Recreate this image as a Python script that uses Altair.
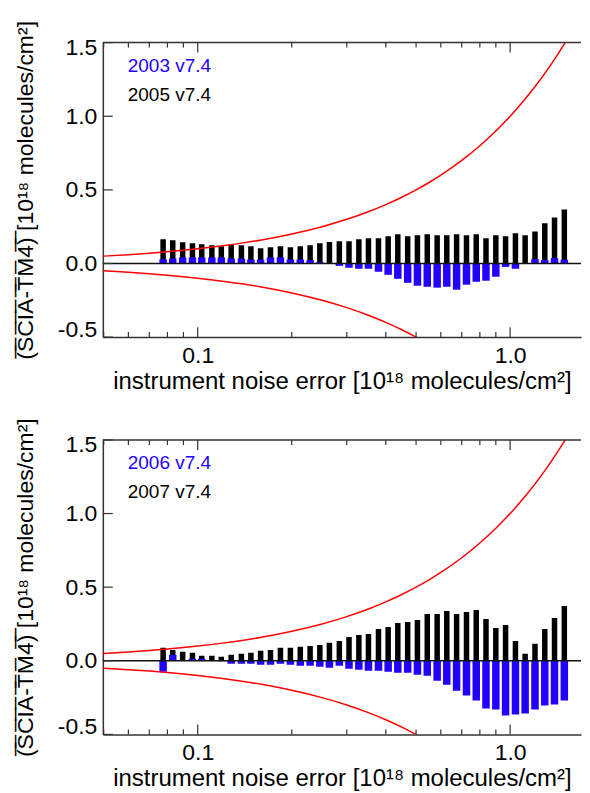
import altair as alt
import pandas as pd

# bar centres (instrument noise error, 1e18 molec/cm2)
noise = [0.0775, 0.0832, 0.0895, 0.0962, 0.103, 0.111, 0.119, 0.128, 0.138, 0.148,
         0.159, 0.171, 0.184, 0.198, 0.213, 0.229, 0.246, 0.264, 0.284, 0.305,
         0.328, 0.352, 0.379, 0.407, 0.437, 0.470, 0.505, 0.543, 0.584, 0.627,
         0.674, 0.725, 0.779, 0.837, 0.900, 0.967, 1.040, 1.117, 1.201, 1.291,
         1.387, 1.491]

y2003 = [0.029, 0.034, 0.041, 0.041, 0.041, 0.041, 0.041, 0.034, 0.034, 0.027,
         0.027, 0.041, 0.041, 0.027, 0.027, 0.023, 0.009, 0.004, -0.016, -0.029,
         -0.036, -0.036, -0.056, -0.077, -0.104, -0.131, -0.151, -0.158, -0.164, -0.158,
         -0.178, -0.144, -0.124, -0.117, -0.090, -0.023, -0.036, 0.003, 0.029, 0.023,
         0.036, 0.025]
y2005 = [0.164, 0.158, 0.144, 0.137, 0.131, 0.124, 0.117, 0.126, 0.124, 0.117,
         0.104, 0.110, 0.117, 0.110, 0.117, 0.124, 0.137, 0.146, 0.151, 0.151,
         0.164, 0.171, 0.171, 0.185, 0.198, 0.185, 0.191, 0.198, 0.191, 0.191,
         0.198, 0.191, 0.198, 0.171, 0.191, 0.185, 0.205, 0.191, 0.218, 0.273,
         0.313, 0.367]
y2006 = [-0.074, 0.041, 0.005, 0.014, 0.014, 0.003, -0.003, -0.020, -0.020, -0.020,
         -0.027, -0.027, -0.020, -0.027, -0.034, -0.034, -0.041, -0.047, -0.034, -0.054,
         -0.061, -0.068, -0.068, -0.074, -0.081, -0.081, -0.095, -0.101, -0.135, -0.162,
         -0.203, -0.236, -0.270, -0.324, -0.331, -0.372, -0.365, -0.358, -0.331, -0.304,
         -0.297, -0.270]
y2007 = [0.088, 0.074, 0.061, 0.054, 0.034, 0.034, 0.027, 0.041, 0.047, 0.054,
         0.068, 0.074, 0.088, 0.088, 0.095, 0.101, 0.108, 0.122, 0.135, 0.162,
         0.176, 0.182, 0.216, 0.230, 0.257, 0.264, 0.277, 0.318, 0.318, 0.338,
         0.318, 0.331, 0.345, 0.284, 0.223, 0.243, 0.135, 0.047, 0.115, 0.216,
         0.291, 0.372]

# sample points of the +/- noise envelope lines
curve_x = [0.04, 0.05, 0.06, 0.07, 0.08, 0.09, 0.1, 0.12, 0.14, 0.16, 0.18, 0.2,
           0.25, 0.3, 0.35, 0.4, 0.45, 0.5, 0.55, 0.6, 0.7, 0.8, 0.9, 1.0, 1.1,
           1.2, 1.3, 1.4, 1.5, 1.6, 1.8, 2.0]

x_major = [0.1, 1.0]
x_minor = [0.05, 0.06, 0.07, 0.08, 0.09, 0.2, 0.3, 0.4, 0.5, 0.6, 0.7, 0.8, 0.9]
y_major = [-0.5, 0.0, 0.5, 1.0, 1.5]

legend_top = ["2003 v7.4", "2005 v7.4"]
legend_bottom = ["2006 v7.4", "2007 v7.4"]

BLUE = "#2200ff"
FONT = "Liberation Sans, DejaVu Sans"
W, H = 479, 295
XDOM = [0.0497, 1.686]
YDOM = [-0.5, 1.5]

ytitle = "".join(c + "\u0305" for c in "(SCIA-TM4)") + " [10\u00b9\u2078 molecules/cm\u00b2]"
xtitle = "instrument noise error [10\u00b9\u2078 molecules/cm\u00b2]"

xs = alt.Scale(type="log", domain=XDOM, nice=False, padding=0)
ys = alt.Scale(domain=YDOM, nice=False, zero=False, padding=0)
xaxis = alt.Axis(values=x_major, format=".1f", ticks=False, grid=False,
                 labelPadding=7, titlePadding=2, title=xtitle, labelFlush=False,
                 titleFontSize=24)
yaxis = alt.Axis(values=y_major, format=".1f", ticks=False, grid=False,
                 labelExpr="replace(datum.label, '\u2212', '-')",
                 labelOffset={"condition": [{"test": "datum.value > 1.4", "value": 5},
                                            {"test": "datum.value < -0.4", "value": -8}],
                              "value": 0},
                 labelPadding=6, titlePadding=20, title=ytitle, labelFlush=False,
                 titleFontSize=23)


def X(field):
    return alt.X(field, scale=xs, axis=xaxis, title=xtitle)


def Y(field):
    return alt.Y(field, scale=ys, axis=yaxis, title=ytitle)


one = pd.DataFrame({"k": [0]})


def panel(blue_vals, black_vals, labels):
    df = pd.DataFrame({"noise": noise, "blue": blue_vals, "black": black_vals})
    base = alt.Chart(df)
    black = base.mark_bar(color="black", size=5.5, clip=True).encode(
        x=X("noise:Q"), y=Y("black:Q"), y2=alt.datum(0))
    blue = base.mark_bar(color=BLUE, size=7.5, clip=True).encode(
        x=X("noise:Q"), y=Y("blue:Q"), y2=alt.datum(0))
    zero = alt.Chart(one).mark_rule(color="#111", strokeWidth=1.5).encode(y=alt.datum(0))
    cdf = pd.DataFrame({"noise": curve_x})
    upper = alt.Chart(cdf).transform_calculate(env="datum.noise").mark_line(
        color="#ff0000", strokeWidth=1.5, clip=True, interpolate="monotone").encode(
        x=X("noise:Q"), y=Y("env:Q"))
    lower = alt.Chart(cdf).transform_calculate(env="-datum.noise").mark_line(
        color="#ff0000", strokeWidth=1.5, clip=True, interpolate="monotone").encode(
        x=X("noise:Q"), y=Y("env:Q"))
    maj = alt.Chart(pd.DataFrame({"noise": x_major}))
    mnr = alt.Chart(pd.DataFrame({"noise": x_minor}))
    tick_style = dict(color="#333", strokeWidth=1.2)
    tb = maj.mark_rule(**tick_style).encode(x=X("noise:Q"), y=alt.value(H), y2=alt.value(H - 10))
    tt = maj.mark_rule(**tick_style).encode(x=X("noise:Q"), y=alt.value(0), y2=alt.value(10))
    mb = mnr.mark_rule(**tick_style).encode(x=X("noise:Q"), y=alt.value(H), y2=alt.value(H - 5))
    mt = mnr.mark_rule(**tick_style).encode(x=X("noise:Q"), y=alt.value(0), y2=alt.value(5))
    yt = alt.Chart(pd.DataFrame({"v": y_major}))
    tl = yt.mark_rule(**tick_style).encode(y=Y("v:Q"), x=alt.value(0), x2=alt.value(10))
    top_line = alt.Chart(one).mark_rule(color="#333", strokeWidth=1.5).encode(
        x=alt.value(0), x2=alt.value(W), y=alt.value(0))
    leg1 = alt.Chart(one).mark_text(align="left", baseline="middle", font=FONT,
                                    fontSize=19, color=BLUE).encode(
        x=alt.value(25), y=alt.value(23), text=alt.value(labels[0]))
    leg2 = alt.Chart(one).mark_text(align="left", baseline="middle", font=FONT,
                                    fontSize=19, color="black").encode(
        x=alt.value(25), y=alt.value(52), text=alt.value(labels[1]))
    return alt.layer(black, blue, zero, upper, lower, tb, tt, mb, mt, tl,
                     top_line, leg1, leg2).properties(width=W, height=H)


top = panel(y2003, y2005, legend_top)
bottom = panel(y2006, y2007, legend_bottom)

chart = alt.vconcat(top, bottom, spacing=24).properties(
    padding={"top": 11, "left": 6, "right": 0, "bottom": 0}
).configure_view(stroke=None).configure_axis(
    labelFont=FONT, titleFont=FONT, labelFontSize=23,
    labelColor="black", titleColor="black", titleFontWeight="normal",
    domainColor="#333", domainWidth=1.5
)

chart.save("out.html", embed_options={"renderer": "svg", "actions": False})
